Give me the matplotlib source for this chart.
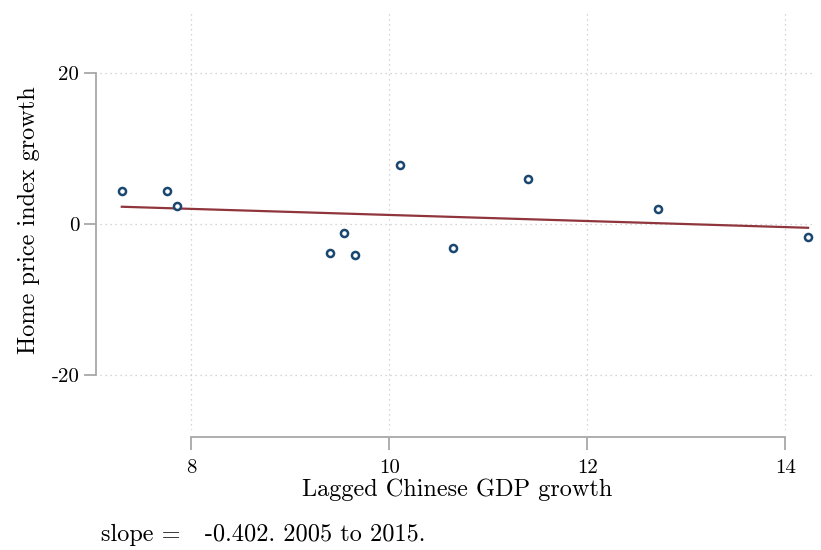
import numpy as np
import matplotlib
matplotlib.use("Agg")
import matplotlib.pyplot as plt

# lagged GDP growth vs home price index growth, 2005-2015
gdp_growth = [7.30, 7.76, 7.86, 9.40, 9.54, 9.66, 10.11, 10.64, 11.40, 12.71, 14.23]
price_growth = [4.37, 4.37, 2.38, -3.85, -1.27, -4.13, 7.79, -3.22, 5.99, 1.98, -1.80]
slope = -0.402

x_ticks = [8, 10, 12, 14]
y_ticks = [-20, 0, 20]

NAVY = "#1a476f"
MAROON = "#90353b"
AXIS_GREY = "#a8a8a8"

plt.rcParams["font.family"] = ["cmr10", "DejaVu Serif"]
plt.rcParams["axes.formatter.use_mathtext"] = True

fig = plt.figure(figsize=(8.21, 5.5), dpi=100)
ax = fig.add_axes([100 / 821, 1 - 430 / 550, 715 / 821, 420 / 550])

x = np.array(gdp_growth)
y = np.array(price_growth)

# fitted line through the means with the reported slope
intercept = y.mean() - slope * x.mean()
xs = np.array([x.min(), x.max()])
ax.plot(xs, intercept + slope * xs, color=MAROON, linewidth=1.6, zorder=2)

ax.scatter(x, y, s=26, facecolors="white", edgecolors=NAVY, linewidths=1.8, zorder=3)

ax.set_xlim(7.08, 14.30)
ax.set_ylim(-27.3, 28.3)
ax.set_xticks(x_ticks, [str(v) for v in x_ticks])
ax.set_yticks(y_ticks, [str(v) for v in y_ticks])

ax.grid(True, linestyle=(0, (1, 3)), color="#c8c8c8", linewidth=0.9)
ax.set_axisbelow(True)

for side in ["top", "right"]:
    ax.spines[side].set_visible(False)
ax.spines["left"].set_position(("outward", 3))
ax.spines["bottom"].set_position(("outward", 5))
ax.spines["left"].set_bounds(-20, 20)
ax.spines["bottom"].set_bounds(8, 14)
for side in ["left", "bottom"]:
    ax.spines[side].set_color(AXIS_GREY)
    ax.spines[side].set_linewidth(1.3)

ax.tick_params(axis="both", length=9, width=1.3, color=AXIS_GREY, labelsize=15, pad=3)
ax.tick_params(axis="x", pad=7)

ax.set_xlabel("Lagged Chinese GDP growth", fontsize=17.5, labelpad=1)
ax.set_ylabel("Home price index growth", fontsize=17.5, labelpad=8)

fig.text(101 / 821, 1 - 535 / 550, "slope =   %.3f. 2005 to 2015." % slope,
         fontsize=17.5, va="center", ha="left")

fig.savefig("out.png", dpi=100)
